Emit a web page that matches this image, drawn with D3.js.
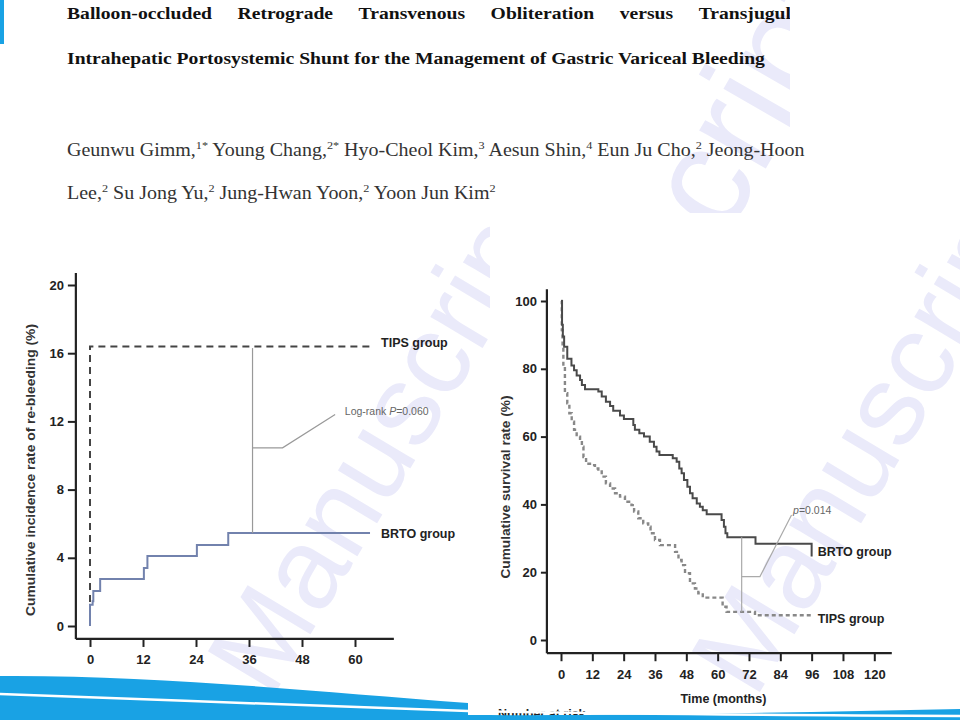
<!DOCTYPE html>
<html>
<head>
<meta charset="utf-8">
<script src="https://cdn.jsdelivr.net/npm/d3@7"></script>
<style>
  body { margin: 0; background: #fff; }
  svg { display: block; }
  .tick text { font-family: "Liberation Sans", Arial, sans-serif; font-weight: bold; font-size: 13px; fill: #222; }
  .tick line { stroke: #222; stroke-width: 2; }
</style>
</head>
<body>
<script>
// ---- data ----
var titleLine1 = ['Balloon-occluded', 'Retrograde', 'Transvenous', 'Obliteration', 'versus', 'Transjugular'];
var titleLine2 = 'Intrahepatic Portosystemic Shunt for the Management of Gastric Variceal Bleeding';
var authorsLine1 = [['Geunwu Gimm,', '1*'], ['Young Chang,', '2*'], ['Hyo-Cheol Kim,', '3'], ['Aesun Shin,', '4'], ['Eun Ju Cho,', '2'], ['Jeong-Hoon', '']];
var authorsLine2 = [['Lee,', '2'], ['Su Jong Yu,', '2'], ['Jung-Hwan Yoon,', '2'], ['Yoon Jun Kim', '2']];

// left panel: cumulative re-bleeding
var rebleedTicksX = [0, 12, 24, 36, 48, 60];
var rebleedTicksY = [0, 4, 8, 12, 16, 20];
var rebleedBrtoMonths = [0, 0, 0.6, 0.75, 2.3, 12.2, 13.0, 24.2, 31.3, 63.4];
var rebleedBrtoPct    = [0, 1.25, 1.45, 2.05, 2.75, 3.4, 4.1, 4.75, 5.45, 5.45];
var rebleedTipsMonths = [0, 0, 64];
var rebleedTipsPct    = [0, 16.4, 16.4];

// right panel: cumulative survival
var survTicksX = [0, 12, 24, 36, 48, 60, 72, 84, 96, 108, 120];
var survTicksY = [0, 20, 40, 60, 80, 100];
var survBrtoMonths = [0, 0.4, 0.7, 1.2, 2.4, 4, 5, 6, 7.3, 8, 9.2, 14.3, 15.6, 17.2, 18.8, 20, 22.6, 24.1, 27.7, 28.3, 30, 31.8, 34, 35.6, 36.6, 37.7, 42.8, 44.3, 45.3, 46.2, 47.1, 48.4, 49.4, 50.4, 52, 53.2, 54.3, 55.8, 61.5, 62.4, 63, 63.7, 74.5, 96, 96];
var survBrtoPct    = [100, 93, 89.5, 86.5, 83, 81, 79.6, 78, 76.7, 75.2, 74, 73.3, 71.8, 70.3, 69, 67.6, 66.2, 65.2, 63.4, 62, 61, 60, 58.5, 57, 55.6, 54.6, 53.6, 52.6, 50.6, 49.2, 47.2, 45.2, 43.3, 41.8, 40.3, 39.3, 38.3, 37.1, 35.4, 33.4, 31.5, 30.3, 28.4, 28.4, 24.6];
var survTipsMonths = [0, 0.3, 0.6, 0.9, 1.5, 2.4, 3.2, 4.1, 5, 6, 7.3, 8, 8.6, 9.6, 11.1, 13, 14.3, 15.6, 17.2, 18.8, 20.7, 22.6, 24.5, 27, 28, 29.6, 31.5, 33.4, 34.3, 36, 37.9, 43.7, 45, 46.2, 47.5, 49.4, 51.3, 52.6, 54.3, 61.9, 63.4, 74.3, 96];
var survTipsPct    = [100, 91.4, 86.5, 80.6, 72.8, 69.8, 66.9, 64.4, 62, 60, 59, 57, 54, 52, 51.6, 50.6, 49.7, 48.2, 46.2, 44.7, 43.3, 42.3, 40.8, 39.8, 37.9, 35.9, 34.4, 33.4, 31.5, 29.5, 28, 26, 23.6, 22.1, 19.7, 16.7, 15.2, 13.8, 12.5, 9.8, 8.3, 7.3, 7.3];

var sans = '"Liberation Sans", Arial, sans-serif';
var serif = '"Liberation Serif", "Times New Roman", serif';
var wmColor = '#eaeafa';
var blue = '#19a2e4';

var svg = d3.select('body').append('svg')
    .attr('width', 960)
    .attr('height', 720);

svg.append('rect').attr('width', 960).attr('height', 720).attr('fill', '#fff');

var defs = svg.append('defs');
defs.append('clipPath').attr('id', 'topclip')
  .append('rect').attr('x', 0).attr('y', 0).attr('width', 790).attr('height', 213);
defs.append('clipPath').attr('id', 'leftclip')
  .append('rect').attr('x', 0).attr('y', 213).attr('width', 490).attr('height', 507);
defs.append('clipPath').attr('id', 'rightclip')
  .append('rect').attr('x', 490).attr('y', 213).attr('width', 470).attr('height', 507);

function watermark(clip, x, y, size, angle) {
    svg.append('g').attr('clip-path', 'url(#' + clip + ')')
      .append('text')
        .text('Manuscript')
        .attr('transform', 'translate(' + x + ',' + y + ') rotate(' + angle + ')')
        .style('font-family', sans)
        .style('font-size', size + 'px')
        .style('fill', wmColor);
}

// ---- page header ----
watermark('topclip', 507, 617, 145, -60);

// horizontal squeeze taken from the second title line
var probe = svg.append('text').text(titleLine2)
    .style('font-family', serif).style('font-weight', 'bold').style('font-size', '17px');
var kTitle = 698 / probe.node().getComputedTextLength();
probe.remove();

var t1 = svg.append('g').attr('clip-path', 'url(#topclip)')
  .append('g').attr('transform', 'translate(67,19) scale(' + kTitle + ',1)');
var cx = 0;
titleLine1.forEach(function(w) {
    var t = t1.append('text').text(w)
        .attr('x', cx)
        .style('font-family', serif).style('font-weight', 'bold').style('font-size', '17px')
        .style('fill', '#111');
    cx += t.node().getComputedTextLength() + 25.5 / kTitle;
});

svg.append('g').attr('transform', 'translate(67,64) scale(' + kTitle + ',1)')
  .append('text').text(titleLine2)
    .style('font-family', serif).style('font-weight', 'bold').style('font-size', '17px')
    .style('fill', '#111');

function authorLine(g, list) {
    var t = g.append('text')
        .style('font-family', serif).style('font-size', '18px').style('fill', '#333');
    list.forEach(function(a, i) {
        t.append('tspan').attr('dy', i === 0 ? 0 : 7).text((i === 0 ? '' : ' ') + a[0]);
        t.append('tspan').attr('dy', -7).style('font-size', '11px').text(a[1]);
    });
    return t;
}
var a1 = svg.append('g');
var a1t = authorLine(a1, authorsLine1);
var kAuth = 738 / a1t.node().getComputedTextLength();
a1.attr('transform', 'translate(67,156) scale(' + kAuth + ',1)');
var a2 = svg.append('g').attr('transform', 'translate(67,199) scale(' + kAuth + ',1)');
authorLine(a2, authorsLine2);

// left edge marker
svg.append('rect').attr('x', 0).attr('y', 0).attr('width', 4).attr('height', 44).attr('fill', blue);

// ---- watermarks over the figure ----
watermark('leftclip', 271, 700, 115, -59);
watermark('rightclip', 755, 700, 115, -59);

var step = function(x, y) {
    return d3.line()
        .x(function(d) { return x(d[0]); })
        .y(function(d) { return y(d[1]); })
        .curve(d3.curveStepAfter);
};

function frame(x, y, xTicks, yTicks, xExt, yExt, ySize, yPad, xPad) {
    var g = svg.append('g');
    g.append('g')
        .attr('transform', 'translate(0,' + y(yExt[0]) + ')')
        .call(d3.axisBottom(x).tickValues(xTicks).tickSize(8).tickPadding(xPad))
        .call(function(s) { s.select('.domain').remove(); });
    g.append('g')
        .attr('transform', 'translate(' + x(xExt[0]) + ',0)')
        .call(d3.axisLeft(y).tickValues(yTicks).tickSize(ySize).tickPadding(yPad))
        .call(function(s) { s.select('.domain').remove(); });
    g.append('line')
        .attr('x1', x(xExt[0])).attr('x2', x(xExt[1]))
        .attr('y1', y(yExt[0])).attr('y2', y(yExt[0]))
        .attr('stroke', '#222').attr('stroke-width', 2.2);
    g.append('line')
        .attr('x1', x(xExt[0])).attr('x2', x(xExt[0]))
        .attr('y1', y(yExt[0])).attr('y2', y(yExt[1]))
        .attr('stroke', '#222').attr('stroke-width', 2.2);
    return g;
}

function label(txt, x, y, size, weight, fill) {
    return svg.append('text').text(txt)
        .attr('x', x).attr('y', y)
        .style('font-family', sans)
        .style('font-size', size + 'px')
        .style('font-weight', weight)
        .style('fill', fill);
}

// ---- left panel ----
var xL = d3.scaleLinear().domain([0, 60]).range([90, 355]);
var yL = d3.scaleLinear().domain([0, 20]).range([626, 285]);
frame(xL, yL, rebleedTicksX, rebleedTicksY, [-3.2, 68.8], [-0.76, 20.7], 8, 4, 8);

var lineL = step(xL, yL);
svg.append('path')
    .datum(d3.zip(rebleedTipsMonths, rebleedTipsPct))
    .attr('d', lineL)
    .attr('fill', 'none').attr('stroke', '#444').attr('stroke-width', 2)
    .attr('stroke-dasharray', '7,5');
svg.append('path')
    .datum(d3.zip(rebleedBrtoMonths, rebleedBrtoPct))
    .attr('d', lineL)
    .attr('fill', 'none').attr('stroke', '#7282ad').attr('stroke-width', 2);

svg.append('path')
    .attr('d', d3.line()([[xL(36.8), yL(16.3)], [xL(36.8), yL(5.45)]]))
    .attr('stroke', '#999').attr('stroke-width', 1.2).attr('fill', 'none');
svg.append('path')
    .attr('d', d3.line()([[xL(36.8), yL(10.45)], [xL(43.6), yL(10.45)], [xL(55.5), yL(12.4)]]))
    .attr('stroke', '#999').attr('stroke-width', 1.2).attr('fill', 'none');
var lr = label('Log-rank ', xL(57.7), yL(12.35), 10.5, 'normal', '#666');
lr.append('tspan').style('font-style', 'italic').text('P');
lr.append('tspan').text('=0.060');

label('TIPS group', xL(65.9), yL(16.35), 12.5, 'bold', '#222');
label('BRTO group', xL(65.9), yL(5.15), 12.5, 'bold', '#222');

svg.append('text')
    .text('Cumulative incidence rate of re-bleeding (%)')
    .attr('transform', 'translate(35,470) rotate(-90)')
    .attr('text-anchor', 'middle')
    .attr('textLength', 292).attr('lengthAdjust', 'spacingAndGlyphs')
    .style('font-family', sans).style('font-size', '12.5px').style('font-weight', 'bold')
    .style('fill', '#333');

// ---- right panel ----
var xR = d3.scaleLinear().domain([0, 120]).range([561, 874.3]);
var yR = d3.scaleLinear().domain([0, 100]).range([640, 301]);
frame(xR, yR, survTicksX, survTicksY, [-5.4, 126.7], [-3.9, 103.5], 6, 4, 9);

var lineR = step(xR, yR);
svg.append('path')
    .datum(d3.zip(survTipsMonths, survTipsPct))
    .attr('d', lineR)
    .attr('fill', 'none').attr('stroke', '#888').attr('stroke-width', 2.4)
    .attr('stroke-dasharray', '4,3');
svg.append('path')
    .datum(d3.zip(survBrtoMonths, survBrtoPct))
    .attr('d', lineR)
    .attr('fill', 'none').attr('stroke', '#4a4a4a').attr('stroke-width', 2);

svg.append('path')
    .attr('d', d3.line()([[xR(69.2), yR(30.3)], [xR(69.2), yR(8.3)]]))
    .attr('stroke', '#aaa').attr('stroke-width', 1.2).attr('fill', 'none');
svg.append('path')
    .attr('d', d3.line()([[xR(69.2), yR(18.7)], [xR(76.2), yR(18.7)], [xR(88.3), yR(36.9)]]))
    .attr('stroke', '#aaa').attr('stroke-width', 1.2).attr('fill', 'none');
var pv = label('', xR(88.9), yR(37.3), 10.5, 'normal', '#666');
pv.append('tspan').style('font-style', 'italic').text('p');
pv.append('tspan').text('=0.014');

label('BRTO group', xR(98.3), yR(24.9), 12.5, 'bold', '#222');
label('TIPS group', xR(98.3), yR(5.1), 12.5, 'bold', '#222');

label('Time (months)', xR(62.2), 703, 12.5, 'bold', '#222').attr('text-anchor', 'middle');

svg.append('text')
    .text('Cumulative survival rate (%)')
    .attr('transform', 'translate(510,487) rotate(-90)')
    .attr('text-anchor', 'middle')
    .attr('textLength', 183).attr('lengthAdjust', 'spacingAndGlyphs')
    .style('font-family', sans).style('font-size', '12.5px').style('font-weight', 'bold')
    .style('fill', '#333');

label('Number at risk', 498, 718, 12.5, 'bold', '#222');

// ---- blue page footer ----
svg.append('path')
    .attr('d', 'M0,676 C150,675 300,690 468,703 L468,720 L0,720 Z')
    .attr('fill', blue);
svg.append('path')
    .attr('d', 'M468,715 C650,716 800,712 960,709 L960,720 L468,720 Z')
    .attr('fill', blue);
svg.append('path')
    .attr('d', 'M0,694 C150,699 350,708 468,711 C600,714 750,715 960,716')
    .attr('fill', 'none').attr('stroke', '#fff').attr('stroke-width', 2.5);
</script>
</body>
</html>
